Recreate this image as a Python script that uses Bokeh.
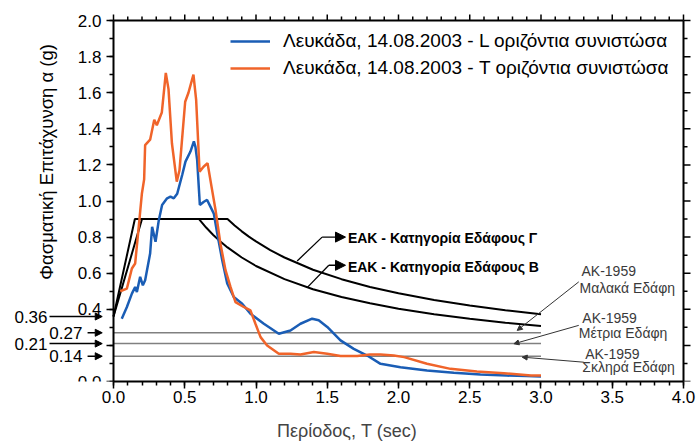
import math
from bokeh.plotting import figure
from bokeh.models import (SingleIntervalTicker, CustomJSTickFormatter, Label,
                          Arrow, NormalHead, Range1d, Legend, LegendItem)
from bokeh.embed import file_html
from bokeh.resources import INLINE

FONT = "Liberation Sans"
BLUE = "#1a5db5"
ORANGE = "#f0642a"

# ---------------- data ----------------
T_L = [0.058, 0.094, 0.129, 0.152, 0.164, 0.187, 0.206, 0.222, 0.257, 0.271, 0.295, 0.318, 0.341,
       0.376, 0.40, 0.423, 0.447, 0.482, 0.505, 0.54, 0.564, 0.575, 0.587, 0.606, 0.634, 0.657,
       0.68, 0.704, 0.728, 0.763, 0.798, 0.844, 0.903, 0.961, 1.055, 1.16, 1.242, 1.312, 1.394,
       1.44, 1.5, 1.593, 1.686, 1.78, 1.874, 2.014, 2.2, 2.388, 2.575, 2.76, 2.9, 3.0]
S_L = [0.348, 0.413, 0.487, 0.524, 0.496, 0.58, 0.533, 0.561, 0.709, 0.857, 0.774, 0.894, 0.978,
       1.015, 1.024, 1.015, 1.04, 1.144, 1.218, 1.274, 1.33, 1.30, 1.228, 0.978, 0.996, 1.006,
       0.969, 0.93, 0.82, 0.672, 0.543, 0.468, 0.431, 0.376, 0.32, 0.265, 0.283, 0.32, 0.348,
       0.339, 0.302, 0.228, 0.181, 0.144, 0.098, 0.079, 0.061, 0.048, 0.039, 0.033, 0.03, 0.028]

T_T = [0.047, 0.094, 0.129, 0.152, 0.175, 0.199, 0.215, 0.222, 0.257, 0.286, 0.304, 0.339, 0.367,
       0.386, 0.41, 0.444, 0.463, 0.503, 0.526, 0.561, 0.58, 0.604, 0.632, 0.66, 0.69, 0.716,
       0.75, 0.786, 0.821, 0.856, 0.914, 0.961, 0.996, 1.032, 1.078, 1.16, 1.242, 1.312, 1.406,
       1.5, 1.593, 1.71, 1.80, 1.874, 1.967, 2.04, 2.2, 2.365, 2.55, 2.74, 2.93, 3.0]
S_T = [0.50, 0.515, 0.626, 0.654, 0.84, 1.04, 1.12, 1.31, 1.34, 1.45, 1.42, 1.49, 1.71,
       1.62, 1.32, 1.107, 1.17, 1.55, 1.60, 1.70, 1.56, 1.163, 1.19, 1.21, 1.07, 0.95,
       0.765, 0.617, 0.524, 0.44, 0.413, 0.394, 0.32, 0.246, 0.2, 0.154, 0.154, 0.15, 0.163,
       0.154, 0.141, 0.141, 0.15, 0.15, 0.144, 0.135, 0.098, 0.07, 0.055, 0.046, 0.033, 0.033]

T_EAK_B = [0, 0.15, 0.6, 0.65, 0.7, 0.75, 0.8, 0.9, 1.0, 1.2, 1.4, 1.6, 1.8, 2.0, 2.25, 2.5, 2.75, 3.0]
S_EAK_B = [0.36, 0.9, 0.9, 0.853, 0.812, 0.776, 0.743, 0.687, 0.640, 0.567, 0.511, 0.468, 0.433,
           0.403, 0.373, 0.348, 0.326, 0.308]
T_EAK_G = [0, 0.2, 0.8, 0.85, 0.9, 0.95, 1.0, 1.1, 1.2, 1.4, 1.6, 1.8, 2.0, 2.25, 2.5, 2.75, 3.0]
S_EAK_G = [0.36, 0.9, 0.9, 0.864, 0.832, 0.803, 0.776, 0.728, 0.687, 0.619, 0.567, 0.524, 0.489,
           0.452, 0.421, 0.395, 0.373]

AK_LEVELS = [0.27, 0.21, 0.14]
AK_T_END = 3.0
LEFT_VALUES = [0.36, 0.27, 0.21, 0.14]
LEFT_TEXTS = ["0.36", "0.27", "0.21", "0.14"]

X_MAX, Y_MAX = 4.0, 2.0
X_MAJOR = [0.0, 0.5, 1.0, 1.5, 2.0, 2.5, 3.0, 3.5, 4.0]
X_MINOR = [round(i * 0.1, 1) for i in range(41) if i % 5 != 0]
Y_MAJOR = [0.0, 0.2, 0.4, 0.6, 0.8, 1.0, 1.2, 1.4, 1.6, 1.8, 2.0]
Y_MINOR = [round(0.1 + i * 0.2, 1) for i in range(10)]

LEGEND_L = "Λευκάδα, 14.08.2003 - L οριζόντια συνιστώσα"
LEGEND_T = "Λευκάδα, 14.08.2003 - T οριζόντια συνιστώσα"
EAK_G = "ΕΑΚ - Κατηγορία Εδάφους Γ"
EAK_B = "ΕΑΚ - Κατηγορία Εδάφους Β"
AK_TITLE = "ΑΚ-1959"
AK_SOILS = ["Μαλακά Εδάφη", "Μέτρια Εδάφη", "Σκληρά Εδάφη"]
X_LABEL = "Περίοδος, T (sec)"
Y_LABEL = "Φασματική Επιτάχυνση α (g)"

# ---------------- figure ----------------
p = figure(width=699, height=446, output_backend="svg", toolbar_location=None,
           x_range=Range1d(-0.793, 4.0702), y_range=Range1d(0, 2.0445),
           min_border_left=0, min_border_right=6, min_border_top=12, min_border_bottom=65)
p.outline_line_color = None
p.grid.visible = False
p.background_fill_color = "white"


def style(ax):
    ax.axis_line_width = 2
    ax.axis_line_color = "black"
    ax.major_tick_line_width = 1.5
    ax.minor_tick_line_width = 1.5
    ax.major_tick_line_color = "black"
    ax.minor_tick_line_color = "black"
    ax.major_tick_in = 0
    ax.major_tick_out = 7
    ax.minor_tick_in = 0
    ax.minor_tick_out = 4
    ax.major_label_text_font = FONT
    ax.major_label_text_font_size = "17px"
    ax.major_label_text_color = "black"


xax = p.xaxis[0]
xax.ticker = SingleIntervalTicker(interval=0.5, num_minor_ticks=5)
xax.bounds = (0, X_MAX)
xax.formatter = CustomJSTickFormatter(code="return tick.toFixed(1);")
xax.axis_label = X_LABEL
xax.axis_label_text_font = FONT
xax.axis_label_text_font_size = "18px"
xax.axis_label_text_font_style = "normal"
xax.axis_label_standoff = 15
xax.major_label_standoff = 2
style(xax)

yax = p.yaxis[0]
yax.fixed_location = 0
yax.ticker = SingleIntervalTicker(interval=0.2, num_minor_ticks=2)
yax.bounds = (0, Y_MAX)
yax.formatter = CustomJSTickFormatter(
    code="return Math.abs(tick - 0.2) < 1e-6 ? '' : tick.toFixed(1);")
yax.major_label_standoff = 5
style(yax)


def plain(x0, y0, x1, y1, width=2.0):
    p.add_layout(Arrow(start=None, end=None, x_start=x0, y_start=y0, x_end=x1, y_end=y1,
                       line_color="black", line_width=width))


# top and right sides of the frame box, with outward ticks
plain(0, Y_MAX, X_MAX, Y_MAX)
plain(X_MAX, 0, X_MAX, Y_MAX)
TOP_MAJ = 6 / 180.0
TOP_MIN = 4 / 180.0
R_MAJ = 7 / 142.5
R_MIN = 4 / 142.5
for xt in X_MAJOR:
    plain(xt, Y_MAX, xt, Y_MAX + TOP_MAJ, 1.5)
for xt in X_MINOR:
    plain(xt, Y_MAX, xt, Y_MAX + TOP_MIN, 1.5)
for yt in Y_MAJOR:
    plain(X_MAX, yt, X_MAX + R_MAJ, yt, 1.5)
for yt in Y_MINOR:
    plain(X_MAX, yt, X_MAX + R_MIN, yt, 1.5)

# ---------------- glyphs ----------------
for lvl in AK_LEVELS:
    p.line([0, AK_T_END], [lvl, lvl], line_color="#808080", line_width=1.5)

p.line(T_EAK_B, S_EAK_B, line_color="black", line_width=2)
p.line(T_EAK_G, S_EAK_G, line_color="black", line_width=2)

r_L = p.line(T_L, S_L, line_color=BLUE, line_width=2.5)
r_T = p.line(T_T, S_T, line_color=ORANGE, line_width=2.5)

legend = Legend(items=[LegendItem(label=LEGEND_L, renderers=[r_L]),
                       LegendItem(label=LEGEND_T, renderers=[r_T])],
                location=(230, 302), border_line_color=None,
                background_fill_color=None, background_fill_alpha=0,
                padding=10, spacing=5, glyph_width=40, glyph_height=20, label_height=20,
                label_standoff=13, margin=0,
                label_text_font=FONT, label_text_font_size="19px", label_text_color="black")
p.add_layout(legend)

# ---------------- annotations ----------------
# EAK leaders
p.line([1.289, 1.464], [0.668, 0.80], line_color="black", line_width=1.3)
p.add_layout(Arrow(start=None, end=NormalHead(size=10, fill_color="black", line_color="black"),
                   x_start=1.464, y_start=0.80, x_end=1.628, y_end=0.80,
                   line_color="black", line_width=1.3))
p.line([1.359, 1.511], [0.52, 0.644], line_color="black", line_width=1.3)
p.add_layout(Arrow(start=None, end=NormalHead(size=10, fill_color="black", line_color="black"),
                   x_start=1.511, y_start=0.644, x_end=1.628, y_end=0.644,
                   line_color="black", line_width=1.3))
for txt, yy in [(EAK_G, 0.793), (EAK_B, 0.632)]:
    p.add_layout(Label(x=1.645, y=yy, text=txt, text_align="left", text_baseline="middle",
                       text_font=FONT, text_font_size="14px", text_font_style="bold",
                       text_color="black"))

# AK-1959 labels and leaders
ak_title_pos = [(3.284, 0.613), (3.29, 0.354), (3.31, 0.15)]
ak_soil_pos = [(3.27, 0.52), (3.265, 0.268), (3.29, 0.08)]
ak_leaders = [((3.265, 0.552), (2.833, 0.283)),
              ((3.265, 0.311), (2.81, 0.209)),
              ((3.30, 0.107), (2.868, 0.135))]
for (tx, ty), (sx, sy), soil, ((x0, y0), (x1, y1)) in zip(ak_title_pos, ak_soil_pos, AK_SOILS, ak_leaders):
    p.add_layout(Label(x=tx, y=ty, text=AK_TITLE, text_align="left", text_baseline="middle",
                       text_font=FONT, text_font_size="14px", text_color="#3a3a3a"))
    p.add_layout(Label(x=sx, y=sy, text=soil, text_align="left", text_baseline="middle",
                       text_font=FONT, text_font_size="14px", text_color="#3a3a3a"))
    p.add_layout(Arrow(start=None, end=NormalHead(size=5, fill_color="#333333", line_color="#333333"),
                       x_start=x0, y_start=y0, x_end=x1, y_end=y1,
                       line_color="#333333", line_width=1))

# left value labels with arrows
label_right = [-0.463, -0.218, -0.463, -0.218]
arrow_start = [-0.449, -0.182, -0.449, -0.182]
for v, t, lx, ax0 in zip(LEFT_VALUES, LEFT_TEXTS, label_right, arrow_start):
    p.add_layout(Label(x=lx, y=v, text=t, text_align="right", text_baseline="middle",
                       text_font=FONT, text_font_size="17px", text_color="black"))
    p.add_layout(Arrow(start=None, end=NormalHead(size=7, fill_color="black", line_color="black"),
                       x_start=ax0, y_start=v, x_end=-0.079, y_end=v,
                       line_color="black", line_width=1.5))

# y-axis title
p.add_layout(Label(x=-0.467, y=1.217, text=Y_LABEL, angle=math.pi / 2, text_align="center",
                   text_baseline="middle", text_font=FONT, text_font_size="18.5px",
                   text_color="black"))

open("out.html", "w").write(file_html(p, INLINE))
